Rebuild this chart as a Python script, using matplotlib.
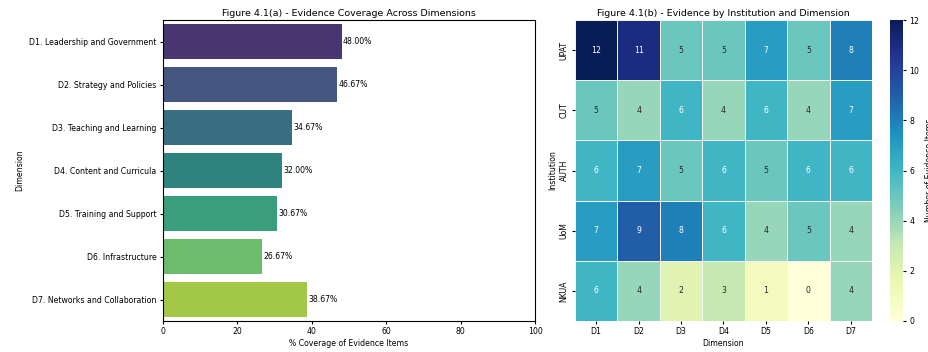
import matplotlib
matplotlib.use("Agg")
import matplotlib.pyplot as plt
import seaborn as sns
import numpy as np

dimensions = ["D1. Leadership and Government", "D2. Strategy and Policies",
              "D3. Teaching and Learning", "D4. Content and Curricula",
              "D5. Training and Support", "D6. Infrastructure",
              "D7. Networks and Collaboration"]
coverage = [48.00, 46.67, 34.67, 32.00, 30.67, 26.67, 38.67]

institutions = ["UPAT", "CUT", "AUTH", "UoM", "NKUA"]
dim_codes = ["D1", "D2", "D3", "D4", "D5", "D6", "D7"]
upat = [12, 11, 5, 5, 7, 5, 8]
cut = [5, 4, 6, 4, 6, 4, 7]
auth = [6, 7, 5, 6, 5, 6, 6]
uom = [7, 9, 8, 6, 4, 5, 4]
nkua = [6, 4, 2, 3, 1, 0, 4]

fs = 5.6
plt.rcParams["font.size"] = fs

fig = plt.figure(figsize=(9.29, 3.52), dpi=100)
ax1 = fig.add_axes([163 / 929, 31 / 352, 372 / 929, 301 / 352])
ax2 = fig.add_axes([575 / 929, 31 / 352, 297 / 929, 301 / 352])
cax = fig.add_axes([890 / 929, 31 / 352, 13 / 929, 301 / 352])

# left: coverage per dimension
sns.barplot(x=coverage, y=dimensions, hue=dimensions, palette="viridis",
            legend=False, ax=ax1)
for i, v in enumerate(coverage):
    ax1.text(v + 0.4, i, f"{v:.2f}%", va="center", ha="left", fontsize=fs)
ax1.set_xlim(0, 100)
ax1.set_xlabel("% Coverage of Evidence Items", fontsize=fs, labelpad=2)
ax1.set_ylabel("Dimension", fontsize=fs)
ax1.set_title("Figure 4.1(a) - Evidence Coverage Across Dimensions", fontsize=6.8, pad=3)
ax1.tick_params(labelsize=fs, length=2.5, pad=2)

# right: evidence counts per institution and dimension
counts = np.array([upat, cut, auth, uom, nkua])
sns.heatmap(counts, annot=True, fmt="d", cmap="YlGnBu", linewidths=0.4,
            linecolor="#f2f2f2", xticklabels=dim_codes, yticklabels=institutions,
            cbar_ax=cax, cbar_kws={"label": "Number of Evidence Items"},
            annot_kws={"fontsize": fs}, ax=ax2)
ax2.set_xlabel("Dimension", fontsize=fs, labelpad=2)
ax2.set_ylabel("Institution", fontsize=fs, labelpad=2)
ax2.set_title("Figure 4.1(b) - Evidence by Institution and Dimension", fontsize=6.8, pad=3)
ax2.tick_params(labelsize=fs, length=2.5, pad=2)
cax.tick_params(labelsize=fs, length=2.5, pad=2)
cax.yaxis.label.set_size(fs)

fig.savefig("out.png", dpi=100)
